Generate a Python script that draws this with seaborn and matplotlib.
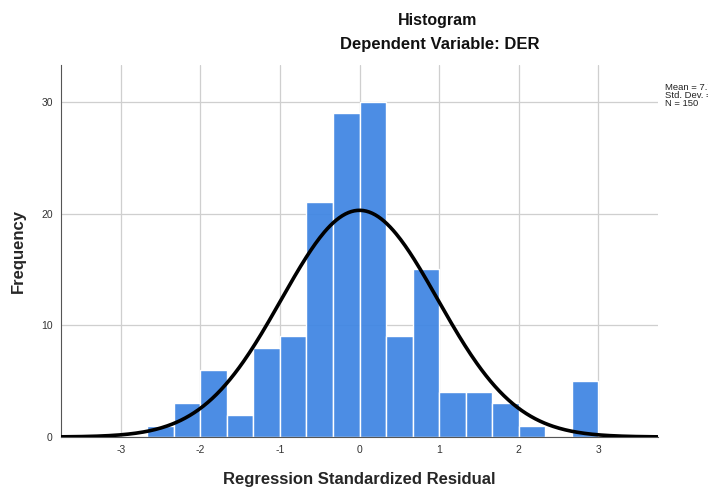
import matplotlib
matplotlib.use("Agg")
import matplotlib.pyplot as plt
import seaborn as sns
import numpy as np
import pandas as pd

# histogram bins (width 1/3) and counts
bin_edges = np.arange(-8, 10) / 3.0
counts = [1, 3, 6, 2, 8, 9, 21, 29, 30, 9, 15, 4, 4, 3, 1, 0, 5]
n_obs = 150
mean_val = 0.0
sd_val = 0.983
stats_lines = ["Mean = 7.78E-17", "Std. Dev. = 0.983", "N = 150"]

sns.set_style("white")
plt.rcParams["font.family"] = ["Liberation Sans", "DejaVu Sans"]
plt.rcParams["axes.unicode_minus"] = False

fig = plt.figure(figsize=(7.08, 4.87), dpi=100)
ax = fig.add_axes([0.0862, 0.1027, 0.8432, 0.7638])

df = pd.DataFrame({"center": (bin_edges[:-1] + bin_edges[1:]) / 2, "count": counts})
sns.histplot(data=df, x="center", weights="count", bins=list(bin_edges), ax=ax,
             color="#4287e3", alpha=0.95, edgecolor="white", linewidth=1.0,
             zorder=2)

bw = bin_edges[1] - bin_edges[0]
xs = np.linspace(-3.75, 3.75, 400)
ys = n_obs * bw * np.exp(-0.5 * ((xs - mean_val) / sd_val) ** 2) / (sd_val * np.sqrt(2 * np.pi))
sns.lineplot(x=xs, y=ys, ax=ax, color="black", linewidth=2.6, zorder=3)

ax.set_xlim(-3.75, 3.75)
ax.set_ylim(0, 33.3)
ax.set_xticks([-3, -2, -1, 0, 1, 2, 3])
ax.set_yticks([0, 10, 20, 30])
ax.grid(True, color="#cfcfcf", linewidth=0.9, zorder=0)
ax.set_axisbelow(True)
ax.tick_params(axis="both", length=0, labelsize=7.5, labelcolor="#333333", pad=6)
for s in ["top", "right"]:
    ax.spines[s].set_visible(False)
ax.spines["left"].set_color("#555555")
ax.spines["bottom"].set_color("#555555")
ax.set_xlabel("Regression Standardized Residual", fontsize=12, fontweight="bold", labelpad=12)
ax.set_ylabel("Frequency", fontsize=12, fontweight="bold", labelpad=11)

fig.text(438 / 708, 1 - 20 / 487, "Histogram", ha="center", va="center",
         fontsize=11.5, fontweight="bold", color="#111111")
fig.text(440 / 708, 1 - 44 / 487, "Dependent Variable: DER", ha="center", va="center",
         fontsize=12, fontweight="bold", color="#111111")

for i, line in enumerate(stats_lines):
    fig.text(665 / 708, 1 - (88 + i * 8) / 487, line, ha="left", va="center",
             fontsize=6.8, color="#222222")

fig.savefig("out.png", dpi=100)
